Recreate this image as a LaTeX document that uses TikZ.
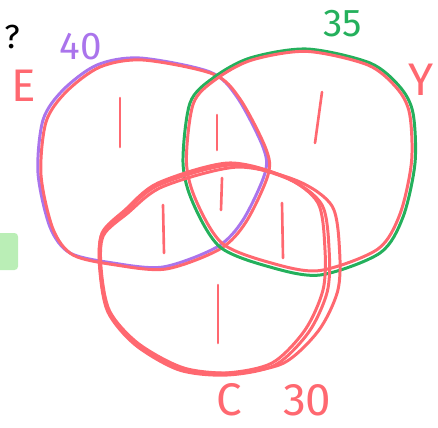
\documentclass[tikz,border=0pt]{standalone}
\usepackage{fontspec}
\setmainfont{Fira Sans}
\usepackage{tikz}
\usetikzlibrary{calc}
\usepackage{xcolor}
\definecolor{penred}{RGB}{255,104,112}
\definecolor{penpurple}{RGB}{170,116,236}
\definecolor{pengreen}{RGB}{36,176,92}
\definecolor{mint}{RGB}{186,238,182}

\tikzset{
  pen/.style={line width=1.7pt,line cap=round,line join=round},
  tally/.style={penred,line width=1.5pt,line cap=round},
  hand/.style={inner sep=0pt,font=\fontsize{22}{22}\selectfont},
  big/.style={font=\fontsize{26}{26}\selectfont},
  % the three hand drawn rings, points taken round their centres
  ringE/.pic={\draw[pen] plot[smooth cycle] coordinates {(-12,-105) (58,-91) (85,-66)
      (111,-16) (113,10) (91,57) (65,84) (11,104) (-39,100) (-82,90) (-102,64)
      (-114,10) (-109,-43) (-89,-73) (-55,-98)};},
  ringY/.pic={\draw[pen] plot[smooth cycle] coordinates {(9,-113) (72,-99) (102,-75)
      (115,-49) (117,1) (105,55) (82,91) (22,113) (-28,105) (-78,85) (-105,41)
      (-115,1) (-108,-59) (-85,-84) (-48,-104)};},
  ringC/.pic={\draw[pen] plot[smooth cycle] coordinates {(14,-105) (71,-91) (104,-65)
      (111,-18) (109,22) (91,62) (58,95) (11,105) (-36,100) (-79,75) (-106,42)
      (-114,-1) (-112,-35) (-89,-58) (-56,-85)};}
}

\begin{document}
\begin{tikzpicture}[x=0.02cm,y=-0.02cm]
    \useasboundingbox (0,0) rectangle (438,427);

    % set E
    \pic[penpurple] at (152,163) {ringE};
    \pic[penred] at (155,165) {ringE};

    % set Y
    \pic[pengreen] at (298,162) {ringY};
    \pic[penred,scale=0.97] at (298,161) {ringY};

    % set C, gone over three times
    \pic[penred] at (214,268) {ringC};
    \pic[penred,xscale=1.02] at (216,270) {ringC};
    \pic[penred,xscale=1.06,yscale=0.98] at (222,270) {ringC};

    % one stroke in each region
    \foreach \xa/\ya/\xb/\yb in {120/98/120/147, 217/115/217/150, 322/92/315/143,
        163/205/164/253, 222/178/221/210, 282/203/283/258, 218/285/218/343}
      \draw[tally] (\xa,\ya) -- (\xb,\yb);

    % labels
    \node[hand,big,penred] (lblE) at (24,86) {E};
    \node[hand,penpurple] (lblEcount) at (81,47) {40};
    \node[hand,pengreen] (lblYcount) at (343,24) {35};
    \node[hand,big,penred] (lblY) at (421,80) {Y};
    \node[hand,big,penred] (lblC) at (274,400) {C\hspace{0.9em}30};
    \node[hand,black,font=\fontsize{19}{19}\selectfont] (ask) at (12,37) {?};

    % green marker at the edge
    \fill[mint,rounded corners=2pt] (-4,233) rectangle (18,270);
  \end{tikzpicture}
\end{document}
